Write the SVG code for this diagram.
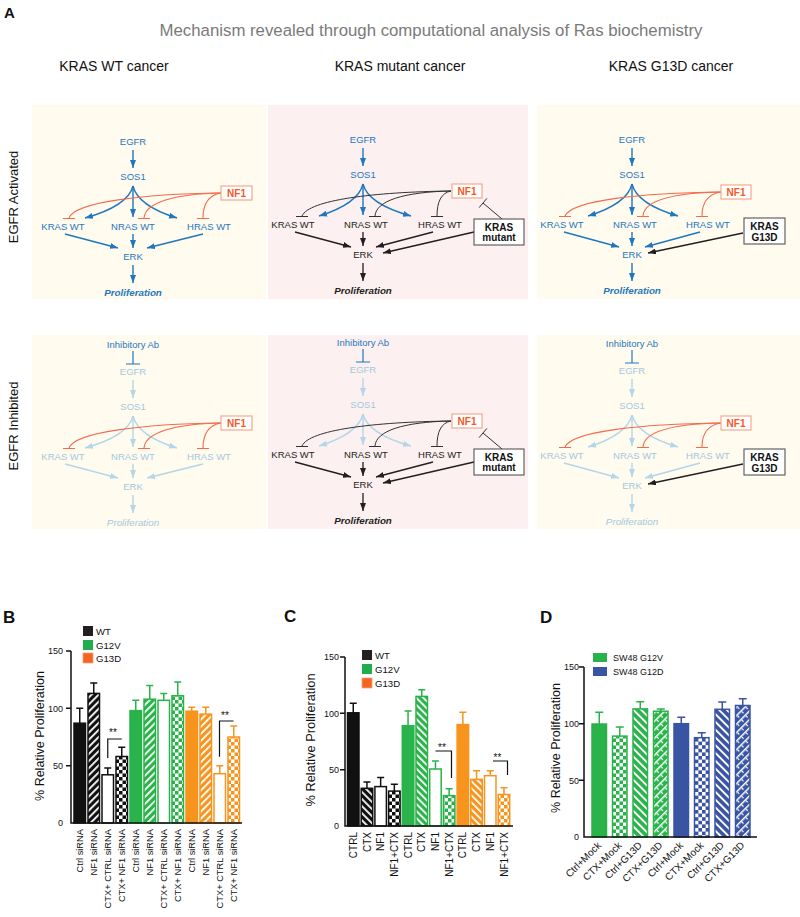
<svg xmlns="http://www.w3.org/2000/svg" width="800" height="917" viewBox="0 0 800 917">
<defs>
<style>
text{font-family:"Liberation Sans",Arial,Helvetica,sans-serif}
.t{font-size:9.5px;text-anchor:middle}
.cb{fill:#1f77bd}.cl{fill:#a3c8de}.ck{fill:#231f20}
.pb{font-size:9.8px;font-weight:bold;font-style:italic;text-anchor:middle}
.pi{font-size:9.8px;font-style:italic;text-anchor:middle}
.nfb{fill:#fff;stroke:#f6a98d;stroke-width:1.2}
.nft{font-size:10px;font-weight:bold;fill:#f15a29;text-anchor:middle}
.mb{fill:#fff;stroke:#555;stroke-width:1.1}
.mt{font-size:10px;font-weight:bold;fill:#111;text-anchor:middle}
.ab{font-size:9.5px;text-anchor:middle;fill:#1f77bd}
.eb{fill:none;stroke:#1f77bd;stroke-width:1.4;marker-end:url(#aB)}
.el{fill:none;stroke:#b3d6e9;stroke-width:1.4;marker-end:url(#aL)}
.ek{fill:none;stroke:#231f20;stroke-width:1.3;marker-end:url(#aK)}
.io{fill:none;stroke:#f26b4d;stroke-width:1.1}
.ik{fill:none;stroke:#333;stroke-width:1}
.ib{fill:none;stroke:#1f77bd;stroke-width:1.2}
.bgc{fill:#fffbef}.bgp{fill:#fcf0f1}
.hdr{font-size:14px;text-anchor:middle;fill:#111}
.side{font-size:13px;text-anchor:middle;fill:#111}
.let{font-size:17px;font-weight:bold;fill:#111}
.ax{fill:none;stroke:#111;stroke-width:1.5}
.tk{font-size:9px;text-anchor:end;fill:#111}
.yl{font-size:12.5px;text-anchor:middle;fill:#111}
.xl{font-size:9.3px;text-anchor:end;fill:#111}
.xc{font-size:10px;text-anchor:end;fill:#111}
.lg{font-size:9.6px;fill:#111}
.st{font-size:10px;text-anchor:middle;fill:#111}
.br{fill:none;stroke:#111;stroke-width:1.2}
.K{stroke:#111;stroke-width:1.5}.G{stroke:#2ab34b;stroke-width:1.5}.O{stroke:#f7941d;stroke-width:1.5}.Bl{stroke:#3a54a4;stroke-width:1.5}
.e{fill:none}
</style>
<marker id="aB" viewBox="0 0 8 6" refX="8" refY="3" markerWidth="8" markerHeight="6" markerUnits="userSpaceOnUse" orient="auto"><path d="M0,0 L8,3 L0,6 z" fill="#1f77bd"/></marker>
<marker id="aL" viewBox="0 0 8 6" refX="8" refY="3" markerWidth="8" markerHeight="6" markerUnits="userSpaceOnUse" orient="auto"><path d="M0,0 L8,3 L0,6 z" fill="#b3d6e9"/></marker>
<marker id="aK" viewBox="0 0 8 6" refX="8" refY="3" markerWidth="8" markerHeight="6" markerUnits="userSpaceOnUse" orient="auto"><path d="M0,0 L8,3 L0,6 z" fill="#231f20"/></marker>
<pattern id="hK" width="5" height="5" patternUnits="userSpaceOnUse" patternTransform="rotate(45)"><rect width="5" height="5" fill="#111"/><rect width="1.8" height="5" fill="#fff"/></pattern>
<pattern id="hG" width="5" height="5" patternUnits="userSpaceOnUse" patternTransform="rotate(45)"><rect width="5" height="5" fill="#2ab34b"/><rect width="1.8" height="5" fill="#fff"/></pattern>
<pattern id="hO" width="5" height="5" patternUnits="userSpaceOnUse" patternTransform="rotate(45)"><rect width="5" height="5" fill="#f7941d"/><rect width="1.8" height="5" fill="#fff"/></pattern>
<pattern id="bK" width="5" height="5" patternUnits="userSpaceOnUse" patternTransform="rotate(-45)"><rect width="5" height="5" fill="#111"/><rect width="1.8" height="5" fill="#fff"/></pattern>
<pattern id="bG" width="5" height="5" patternUnits="userSpaceOnUse" patternTransform="rotate(-45)"><rect width="5" height="5" fill="#2ab34b"/><rect width="1.8" height="5" fill="#fff"/></pattern>
<pattern id="bO" width="5" height="5" patternUnits="userSpaceOnUse" patternTransform="rotate(-45)"><rect width="5" height="5" fill="#f7941d"/><rect width="1.8" height="5" fill="#fff"/></pattern>
<pattern id="bB" width="5.5" height="5.5" patternUnits="userSpaceOnUse" patternTransform="rotate(-45)"><rect width="5.5" height="5.5" fill="#3a54a4"/><rect width="1.9" height="5.5" fill="#fff"/></pattern>
<pattern id="bG2" width="5.5" height="5.5" patternUnits="userSpaceOnUse" patternTransform="rotate(-45)"><rect width="5.5" height="5.5" fill="#2ab34b"/><rect width="1.9" height="5.5" fill="#fff"/></pattern>
<pattern id="cK" width="7" height="7" patternUnits="userSpaceOnUse"><rect width="7" height="7" fill="#fff"/><rect width="3.5" height="3.5" fill="#111"/><rect x="3.5" y="3.5" width="3.5" height="3.5" fill="#111"/></pattern>
<pattern id="cG" width="7" height="7" patternUnits="userSpaceOnUse"><rect width="7" height="7" fill="#fff"/><rect width="3.5" height="3.5" fill="#2ab34b"/><rect x="3.5" y="3.5" width="3.5" height="3.5" fill="#2ab34b"/></pattern>
<pattern id="cO" width="7" height="7" patternUnits="userSpaceOnUse"><rect width="7" height="7" fill="#fff"/><rect width="3.5" height="3.5" fill="#f7941d"/><rect x="3.5" y="3.5" width="3.5" height="3.5" fill="#f7941d"/></pattern>
<pattern id="cB" width="7.2" height="7.2" patternUnits="userSpaceOnUse"><rect width="7.2" height="7.2" fill="#fff"/><rect width="3.6" height="3.6" fill="#3a54a4"/><rect x="3.6" y="3.6" width="3.6" height="3.6" fill="#3a54a4"/></pattern>
<pattern id="zG" width="6" height="6" patternUnits="userSpaceOnUse" patternTransform="rotate(45)"><rect width="6" height="6" fill="#2ab34b"/><rect width="1.5" height="6" fill="#fff"/><rect x="1.5" y="2" width="2.6" height="1.2" fill="#fff"/></pattern>
<pattern id="zB" width="6" height="6" patternUnits="userSpaceOnUse" patternTransform="rotate(45)"><rect width="6" height="6" fill="#3a54a4"/><rect width="1.5" height="6" fill="#fff"/><rect x="1.5" y="2" width="2.6" height="1.2" fill="#fff"/></pattern>
</defs>
<rect width="800" height="917" fill="#fff"/>

<!-- Panel A headings -->
<text class="let" x="4" y="18" style="font-size:15px">A</text>
<text x="431" y="36" style="font-size:16.8px;text-anchor:middle;fill:#7a7a7a">Mechanism revealed through computational analysis of Ras biochemistry</text>
<text class="hdr" x="114" y="71">KRAS WT cancer</text>
<text class="hdr" x="400" y="71">KRAS mutant cancer</text>
<text class="hdr" x="671" y="71">KRAS G13D cancer</text>
<text class="side" transform="translate(17.7,197) rotate(-90)">EGFR Activated</text>
<text class="side" transform="translate(17.7,426) rotate(-90)">EGFR Inhibited</text>

<!-- backgrounds -->
<rect class="bgc" x="32" y="105" width="234" height="194"/>
<rect class="bgp" x="268" y="105" width="260" height="194"/>
<rect class="bgc" x="537" y="105" width="263" height="194"/>
<rect class="bgc" x="32" y="335" width="234" height="194"/>
<rect class="bgp" x="268" y="335" width="260" height="194"/>
<rect class="bgc" x="537" y="335" width="263" height="194"/>

<!-- ===== Top-left: KRAS WT, EGFR activated ===== -->
<g id="wt-act" transform="translate(133,2)">
 <g id="wt-act-connectors">
  <path class="eb" d="M0,148 L0,166"/>
  <path class="eb" d="M0,184 Q-5,204 -48,216"/>
  <path class="eb" d="M0,184 L0,215"/>
  <path class="eb" d="M0,184 Q5,204 44,216"/>
  <path class="eb" d="M-68,232 L-15,246"/>
  <path class="eb" d="M0,232 L0,246"/>
  <path class="eb" d="M70,232 L14,246"/>
  <path class="eb" d="M0,263 L0,281"/>
  <path class="io" d="M88,191 C10,192 -58,200 -64,216 M-70,216.5 H-58"/>
  <path class="io" d="M88,191 C40,192 12,201 11,216 M5,216.5 H17"/>
  <path class="io" d="M88,191 C76,193 70,202 70,216 M64,216.5 H76"/>
 </g>
 <g id="wt-act-egfr"><text class="t cb" x="0" y="143.4">EGFR</text></g>
 <g id="wt-act-sos1"><text class="t cb" x="0" y="178.4">SOS1</text></g>
 <g id="wt-act-kras"><text class="t cb" x="-70" y="228.4">KRAS WT</text></g>
 <g id="wt-act-nras"><text class="t cb" x="0" y="228.4">NRAS WT</text></g>
 <g id="wt-act-hras"><text class="t cb" x="76" y="228.4">HRAS WT</text></g>
 <g id="wt-act-erk"><text class="t cb" x="0" y="258.4">ERK</text></g>
 <g id="wt-act-prolif"><text class="pb cb" x="0" y="293.5">Proliferation</text></g>
 <g id="wt-act-nf1"><rect class="nfb" x="88" y="184" width="31" height="14"/><text class="nft" x="103.5" y="194.6">NF1</text></g>
</g>

<!-- ===== Top-middle: KRAS mutant, EGFR activated ===== -->
<g id="mut-act" transform="translate(363,0)">
 <g id="mut-act-connectors">
  <path class="eb" d="M0,148 L0,166"/>
  <path class="eb" d="M0,184 Q-5,204 -44,216"/>
  <path class="eb" d="M0,184 L0,215"/>
  <path class="eb" d="M0,184 Q5,204 48,216"/>
  <path class="ek" d="M-68,232 L-12,247"/>
  <path class="ek" d="M0,232 L0,246"/>
  <path class="ek" d="M70,232 L13,247"/>
  <path class="ek" d="M111,232 L20,253"/>
  <path class="ek" d="M0,263 L0,281"/>
  <path class="ik" d="M88,191 C10,192 -54,200 -61,216 M-67,216.5 H-55"/>
  <path class="ik" d="M88,191 C40,192 13,201 12,216 M6,216.5 H18"/>
  <path class="ik" d="M88,191 C78,193 74,202 74,216 M68,216.5 H80"/>
  <path class="ik" d="M139,219 L120,203 M116.1,207.6 L123.9,198.4"/>
 </g>
 <g id="mut-act-egfr"><text class="t cb" x="0" y="143.4">EGFR</text></g>
 <g id="mut-act-sos1"><text class="t cb" x="0" y="178.4">SOS1</text></g>
 <g id="mut-act-kras"><text class="t ck" x="-70" y="228.4">KRAS WT</text></g>
 <g id="mut-act-nras"><text class="t ck" x="3" y="228.4">NRAS WT</text></g>
 <g id="mut-act-hras"><text class="t ck" x="77" y="228.4">HRAS WT</text></g>
 <g id="mut-act-erk"><text class="t ck" x="0" y="258.4">ERK</text></g>
 <g id="mut-act-prolif"><text class="pb ck" x="0" y="293.5">Proliferation</text></g>
 <g id="mut-act-nf1"><rect class="nfb" x="89" y="184" width="30" height="14"/><text class="nft" x="104" y="194.6">NF1</text></g>
 <g id="mut-act-mutant"><rect class="mb" x="111" y="219" width="50" height="26"/><text class="mt" x="136" y="230.6">KRAS</text><text class="mt" x="136" y="240.8">mutant</text></g>
</g>

<!-- ===== Top-right: KRAS G13D, EGFR activated ===== -->
<g id="g13d-act" transform="translate(632,0)">
 <g id="g13d-act-connectors">
  <path class="eb" d="M0,148 L0,166"/>
  <path class="eb" d="M0,184 Q-5,204 -44,216"/>
  <path class="eb" d="M0,184 L0,215"/>
  <path class="eb" d="M0,184 Q5,204 46,216"/>
  <path class="eb" d="M-68,232 L-13,247"/>
  <path class="eb" d="M0,232 L0,246"/>
  <path class="eb" d="M68,232 L13,247"/>
  <path class="ek" d="M111,233 L16,253"/>
  <path class="eb" d="M0,263 L0,281"/>
  <path class="io" d="M89,192 C10,193 -60,200 -67,216 M-73,216.5 H-61"/>
  <path class="io" d="M89,192 C40,193 12,201 11,216 M5,216.5 H17"/>
  <path class="io" d="M89,192 C76,194 70,203 70,216 M64,216.5 H76"/>
 </g>
 <g id="g13d-act-egfr"><text class="t cb" x="0" y="143.4">EGFR</text></g>
 <g id="g13d-act-sos1"><text class="t cb" x="0" y="178.4">SOS1</text></g>
 <g id="g13d-act-kras"><text class="t cb" x="-70" y="228.4">KRAS WT</text></g>
 <g id="g13d-act-nras"><text class="t cb" x="3" y="228.4">NRAS WT</text></g>
 <g id="g13d-act-hras"><text class="t cb" x="76" y="228.4">HRAS WT</text></g>
 <g id="g13d-act-erk"><text class="t cb" x="0" y="258.4">ERK</text></g>
 <g id="g13d-act-prolif"><text class="pb cb" x="0" y="293.5">Proliferation</text></g>
 <g id="g13d-act-nf1"><rect class="nfb" x="89" y="185" width="30" height="14"/><text class="nft" x="104" y="195.6">NF1</text></g>
 <g id="g13d-act-g13d"><rect class="mb" x="112" y="218" width="41" height="26"/><text class="mt" x="132.5" y="230">KRAS</text><text class="mt" x="132.5" y="240.5">G13D</text></g>
</g>

<!-- ===== Bottom-left: KRAS WT, EGFR inhibited ===== -->
<g id="wt-inh" transform="translate(133,232)">
 <g id="wt-inh-connectors">
  <path class="ib" d="M0,119 V132 M-7,132 H7"/>
  <path class="el" d="M0,148 L0,166"/>
  <path class="el" d="M0,184 Q-5,204 -48,216"/>
  <path class="el" d="M0,184 L0,215"/>
  <path class="el" d="M0,184 Q5,204 44,216"/>
  <path class="el" d="M-68,232 L-15,246"/>
  <path class="el" d="M0,232 L0,246"/>
  <path class="el" d="M70,232 L14,246"/>
  <path class="el" d="M0,263 L0,281"/>
  <path class="io" d="M88,191 C10,192 -58,200 -64,216 M-70,216.5 H-58"/>
  <path class="io" d="M88,191 C40,192 12,201 11,216 M5,216.5 H17"/>
  <path class="io" d="M88,191 C76,193 70,202 70,216 M64,216.5 H76"/>
 </g>
 <g id="wt-inh-ab"><text class="ab" x="0" y="116">Inhibitory Ab</text></g>
 <g id="wt-inh-egfr"><text class="t cl" x="0" y="143.4">EGFR</text></g>
 <g id="wt-inh-sos1"><text class="t cl" x="0" y="178.4">SOS1</text></g>
 <g id="wt-inh-kras"><text class="t cl" x="-70" y="228.4">KRAS WT</text></g>
 <g id="wt-inh-nras"><text class="t cl" x="0" y="228.4">NRAS WT</text></g>
 <g id="wt-inh-hras"><text class="t cl" x="76" y="228.4">HRAS WT</text></g>
 <g id="wt-inh-erk"><text class="t cl" x="0" y="258.4">ERK</text></g>
 <g id="wt-inh-prolif"><text class="pi cl" x="0" y="293.5">Proliferation</text></g>
 <g id="wt-inh-nf1"><rect class="nfb" x="88" y="184" width="31" height="14"/><text class="nft" x="103.5" y="194.6">NF1</text></g>
</g>

<!-- ===== Bottom-middle: KRAS mutant, EGFR inhibited ===== -->
<g id="mut-inh" transform="translate(363,230)">
 <g id="mut-inh-connectors">
  <path class="ib" d="M0,119 V132 M-7,132 H7"/>
  <path class="el" d="M0,148 L0,166"/>
  <path class="el" d="M0,184 Q-5,204 -44,216"/>
  <path class="el" d="M0,184 L0,215"/>
  <path class="el" d="M0,184 Q5,204 48,216"/>
  <path class="ek" d="M-68,232 L-12,247"/>
  <path class="ek" d="M0,232 L0,246"/>
  <path class="ek" d="M70,232 L13,247"/>
  <path class="ek" d="M111,232 L20,253"/>
  <path class="ek" d="M0,263 L0,281"/>
  <path class="ik" d="M88,191 C10,192 -54,200 -61,216 M-67,216.5 H-55"/>
  <path class="ik" d="M88,191 C40,192 13,201 12,216 M6,216.5 H18"/>
  <path class="ik" d="M88,191 C78,193 74,202 74,216 M68,216.5 H80"/>
  <path class="ik" d="M139,219 L120,203 M116.1,207.6 L123.9,198.4"/>
 </g>
 <g id="mut-inh-ab"><text class="ab" x="0" y="116">Inhibitory Ab</text></g>
 <g id="mut-inh-egfr"><text class="t cl" x="0" y="143.4">EGFR</text></g>
 <g id="mut-inh-sos1"><text class="t cl" x="0" y="178.4">SOS1</text></g>
 <g id="mut-inh-kras"><text class="t ck" x="-70" y="228.4">KRAS WT</text></g>
 <g id="mut-inh-nras"><text class="t ck" x="3" y="228.4">NRAS WT</text></g>
 <g id="mut-inh-hras"><text class="t ck" x="77" y="228.4">HRAS WT</text></g>
 <g id="mut-inh-erk"><text class="t ck" x="0" y="258.4">ERK</text></g>
 <g id="mut-inh-prolif"><text class="pb ck" x="0" y="293.5">Proliferation</text></g>
 <g id="mut-inh-nf1"><rect class="nfb" x="89" y="184" width="30" height="14"/><text class="nft" x="104" y="194.6">NF1</text></g>
 <g id="mut-inh-mutant"><rect class="mb" x="111" y="219" width="50" height="26"/><text class="mt" x="136" y="230.6">KRAS</text><text class="mt" x="136" y="240.8">mutant</text></g>
</g>

<!-- ===== Bottom-right: KRAS G13D, EGFR inhibited ===== -->
<g id="g13d-inh" transform="translate(632,231)">
 <g id="g13d-inh-connectors">
  <path class="ib" d="M0,119 V132 M-7,132 H7"/>
  <path class="el" d="M0,148 L0,166"/>
  <path class="el" d="M0,184 Q-5,204 -44,216"/>
  <path class="el" d="M0,184 L0,215"/>
  <path class="el" d="M0,184 Q5,204 46,216"/>
  <path class="el" d="M-68,232 L-13,247"/>
  <path class="el" d="M0,232 L0,246"/>
  <path class="el" d="M68,232 L13,247"/>
  <path class="ek" d="M111,233 L16,253"/>
  <path class="el" d="M0,263 L0,281"/>
  <path class="io" d="M89,192 C10,193 -60,200 -67,216 M-73,216.5 H-61"/>
  <path class="io" d="M89,192 C40,193 12,201 11,216 M5,216.5 H17"/>
  <path class="io" d="M89,192 C76,194 70,203 70,216 M64,216.5 H76"/>
 </g>
 <g id="g13d-inh-ab"><text class="ab" x="0" y="116">Inhibitory Ab</text></g>
 <g id="g13d-inh-egfr"><text class="t cl" x="0" y="143.4">EGFR</text></g>
 <g id="g13d-inh-sos1"><text class="t cl" x="0" y="178.4">SOS1</text></g>
 <g id="g13d-inh-kras"><text class="t cl" x="-70" y="228.4">KRAS WT</text></g>
 <g id="g13d-inh-nras"><text class="t cl" x="3" y="228.4">NRAS WT</text></g>
 <g id="g13d-inh-hras"><text class="t cl" x="76" y="228.4">HRAS WT</text></g>
 <g id="g13d-inh-erk"><text class="t cl" x="0" y="258.4">ERK</text></g>
 <g id="g13d-inh-prolif"><text class="pi cl" x="0" y="293.5">Proliferation</text></g>
 <g id="g13d-inh-nf1"><rect class="nfb" x="89" y="185" width="30" height="14"/><text class="nft" x="104" y="195.6">NF1</text></g>
 <g id="g13d-inh-g13d"><rect class="mb" x="112" y="218" width="41" height="26"/><text class="mt" x="132.5" y="230">KRAS</text><text class="mt" x="132.5" y="240.5">G13D</text></g>
</g>

<!-- ===== Panel B ===== -->
<g id="panel-B">
 <text class="let" x="3" y="623">B</text>
 <rect x="83" y="626" width="10" height="10" fill="#231f20"/><text class="lg" x="96" y="634.5">WT</text>
 <rect x="83" y="640" width="10" height="10" fill="#1fae4b"/><text class="lg" x="96" y="648.5">G12V</text>
 <rect x="83" y="653" width="10" height="10" fill="#f26522" stroke="#f7a07a" stroke-width="0.8"/><text class="lg" x="96" y="661.5">G13D</text>
 <text class="yl" transform="translate(43.5,736) rotate(-90)">% Relative Proliferation</text>
 <text class="tk" x="63" y="654.2">150</text><text class="tk" x="63" y="711.5">100</text><text class="tk" x="63" y="768.9">50</text><text class="tk" x="63" y="826.2">0</text>
 <g>
  <rect x="74" y="723.2" width="11.5" height="99.8" fill="#111" class="K"/>
  <rect x="88" y="693.4" width="11.5" height="129.6" fill="url(#hK)" class="K"/>
  <rect x="102" y="774.8" width="11.5" height="48.2" fill="#fff" class="K"/>
  <rect x="116" y="756.5" width="11.5" height="66.5" fill="url(#cK)" class="K"/>
  <rect x="130" y="710.6" width="11.5" height="112.4" fill="#2ab34b" class="G"/>
  <rect x="144" y="699.2" width="11.5" height="123.8" fill="url(#hG)" class="G"/>
  <rect x="158" y="700.3" width="11.5" height="122.7" fill="#fff" class="G"/>
  <rect x="172" y="695.7" width="11.5" height="127.3" fill="url(#cG)" class="G"/>
  <rect x="186" y="711.2" width="11.5" height="111.8" fill="#f7941d" class="O"/>
  <rect x="200" y="714.1" width="11.5" height="108.9" fill="url(#hO)" class="O"/>
  <rect x="214" y="773.7" width="11.5" height="49.3" fill="#fff" class="O"/>
  <rect x="228" y="737" width="11.5" height="86" fill="url(#cO)" class="O"/>
 </g>
 <path class="e K" d="M79.75,723.2 V708.3 M76.25,708.3 H83.25 M93.75,693.4 V683.1 M90.25,683.1 H97.25 M107.75,774.8 V768 M104.25,768 H111.25 M121.75,756.5 V747.3 M118.25,747.3 H125.25"/>
 <path class="e G" d="M135.75,710.6 V700.3 M132.25,700.3 H139.25 M149.75,699.2 V685.4 M146.25,685.4 H153.25 M163.75,700.3 V693.4 M160.25,693.4 H167.25 M177.75,695.7 V682 M174.25,682 H181.25"/>
 <path class="e O" d="M191.75,711.2 V707.2 M188.25,707.2 H195.25 M205.75,714.1 V707.2 M202.25,707.2 H209.25 M219.75,773.7 V765.7 M216.25,765.7 H223.25 M233.75,737 V726.1 M230.25,726.1 H237.25"/>
 <path class="ax" d="M66,651 H71 M66,708.3 H71 M66,765.7 H71 M71,651 V823 H242"/>
 <path class="br" d="M107.75,758 V739 H121.75"/>
 <text class="st" x="113" y="736">**</text>
 <path class="br" d="M219.5,756.7 V721 H233.5"/>
 <text class="st" x="225" y="718.5">**</text>
 <text class="xl" transform="translate(83,829) rotate(-90)">Ctrl siRNA</text>
 <text class="xl" transform="translate(97,829) rotate(-90)">NF1 siRNA</text>
 <text class="xl" transform="translate(111,829) rotate(-90)">CTX+ CTRL siRNA</text>
 <text class="xl" transform="translate(125,829) rotate(-90)">CTX+ NF1 siRNA</text>
 <text class="xl" transform="translate(139,829) rotate(-90)">Ctrl siRNA</text>
 <text class="xl" transform="translate(153,829) rotate(-90)">NF1 siRNA</text>
 <text class="xl" transform="translate(167,829) rotate(-90)">CTX+ CTRL siRNA</text>
 <text class="xl" transform="translate(181,829) rotate(-90)">CTX+ NF1 siRNA</text>
 <text class="xl" transform="translate(195,829) rotate(-90)">Ctrl siRNA</text>
 <text class="xl" transform="translate(209,829) rotate(-90)">NF1 siRNA</text>
 <text class="xl" transform="translate(223,829) rotate(-90)">CTX+ CTRL siRNA</text>
 <text class="xl" transform="translate(237,829) rotate(-90)">CTX+ NF1 siRNA</text>
</g>

<!-- ===== Panel C ===== -->
<g id="panel-C">
 <text class="let" x="284" y="622">C</text>
 <rect x="362" y="650" width="10" height="10" fill="#231f20"/><text class="lg" x="375" y="658.5">WT</text>
 <rect x="362" y="664" width="10" height="10" fill="#1fae4b"/><text class="lg" x="375" y="672.5">G12V</text>
 <rect x="362" y="678" width="10" height="10" fill="#f26522" stroke="#f7a07a" stroke-width="0.8"/><text class="lg" x="375" y="686.5">G13D</text>
 <text class="yl" transform="translate(314.5,740) rotate(-90)" style="font-size:12.8px">% Relative Proliferation</text>
 <text class="tk" x="339" y="660.2">150</text><text class="tk" x="339" y="716.5">100</text><text class="tk" x="339" y="772.9">50</text><text class="tk" x="339" y="829.2">0</text>
 <g>
  <rect x="347.5" y="712.8" width="11.5" height="113.2" fill="#111" class="K"/>
  <rect x="361.2" y="788.3" width="11.5" height="37.7" fill="url(#bK)" class="K"/>
  <rect x="374.9" y="786.6" width="11.5" height="39.4" fill="#fff" class="K"/>
  <rect x="388.6" y="791.1" width="11.5" height="34.9" fill="url(#cK)" class="K"/>
  <rect x="402.3" y="725.7" width="11.5" height="100.3" fill="#2ab34b" class="G"/>
  <rect x="416" y="696.4" width="11.5" height="129.6" fill="url(#bG)" class="G"/>
  <rect x="429.7" y="769" width="11.5" height="57" fill="#fff" class="G"/>
  <rect x="443.4" y="795.6" width="11.5" height="30.4" fill="url(#cG)" class="G"/>
  <rect x="457.1" y="724.6" width="11.5" height="101.4" fill="#f7941d" class="O"/>
  <rect x="470.8" y="779.4" width="11.5" height="46.6" fill="url(#bO)" class="O"/>
  <rect x="484.5" y="775.7" width="11.5" height="50.3" fill="#fff" class="O"/>
  <rect x="498.2" y="794.5" width="11.5" height="31.5" fill="url(#cO)" class="O"/>
 </g>
 <path class="e K" d="M353.25,712.8 V703.2 M349.75,703.2 H356.75 M366.95,788.3 V782.1 M363.45,782.1 H370.45 M380.65,786.6 V777.6 M377.15,777.6 H384.15 M394.35,791.1 V784.3 M390.85,784.3 H397.85"/>
 <path class="e G" d="M408.05,725.7 V711.1 M404.55,711.1 H411.55 M421.75,696.4 V689.7 M418.25,689.7 H425.25 M435.45,769 V761 M431.95,761 H438.95 M449.15,795.6 V788.8 M445.65,788.8 H452.65"/>
 <path class="e O" d="M462.85,724.6 V712.2 M459.35,712.2 H466.35 M476.55,779.4 V770.8 M473.05,770.8 H480.05 M490.25,775.7 V770.8 M486.75,770.8 H493.75 M503.95,794.5 V787.7 M500.45,787.7 H507.45"/>
 <path class="ax" d="M340,657 H345 M340,713.3 H345 M340,769.7 H345 M345,657 V826 H513"/>
 <path class="br" d="M435.5,751 H451.5 V778"/>
 <text class="st" x="442" y="751">**</text>
 <path class="br" d="M493,761 H507.5 V775"/>
 <text class="st" x="497.5" y="760.5">**</text>
 <text class="xc" transform="translate(356.8,832) rotate(-90)">CTRL</text>
 <text class="xc" transform="translate(370.5,832) rotate(-90)">CTX</text>
 <text class="xc" transform="translate(384.2,832) rotate(-90)">NF1</text>
 <text class="xc" transform="translate(397.9,832) rotate(-90)">NF1+CTX</text>
 <text class="xc" transform="translate(411.6,832) rotate(-90)">CTRL</text>
 <text class="xc" transform="translate(425.3,832) rotate(-90)">CTX</text>
 <text class="xc" transform="translate(439,832) rotate(-90)">NF1</text>
 <text class="xc" transform="translate(452.7,832) rotate(-90)">NF1+CTX</text>
 <text class="xc" transform="translate(466.4,832) rotate(-90)">CTRL</text>
 <text class="xc" transform="translate(480.1,832) rotate(-90)">CTX</text>
 <text class="xc" transform="translate(493.8,832) rotate(-90)">NF1</text>
 <text class="xc" transform="translate(507.5,832) rotate(-90)">NF1+CTX</text>
</g>

<!-- ===== Panel D ===== -->
<g id="panel-D">
 <text class="let" x="540" y="623">D</text>
 <rect x="593" y="653" width="14" height="9" fill="#2ab34b"/><text class="lg" x="613" y="661" style="font-size:9px">SW48 G12V</text>
 <rect x="593" y="667" width="14" height="9" fill="#3a54a4"/><text class="lg" x="613" y="675" style="font-size:9px">SW48 G12D</text>
 <text class="yl" transform="translate(559.5,748) rotate(-90)">% Relative Proliferation</text>
 <text class="tk" x="579" y="670.2">150</text><text class="tk" x="579" y="726.9">100</text><text class="tk" x="579" y="783.5">50</text><text class="tk" x="579" y="840.2">0</text>
 <g>
  <rect x="592" y="724" width="14.5" height="113" fill="#2ab34b" class="G"/>
  <rect x="612.5" y="736.1" width="14.5" height="100.9" fill="url(#cG)" class="G"/>
  <rect x="633" y="708.9" width="14.5" height="128.1" fill="url(#bG2)" class="G"/>
  <rect x="653.5" y="711.2" width="14.5" height="125.8" fill="url(#zG)" class="G"/>
  <rect x="674" y="723.7" width="14.5" height="113.3" fill="#3a54a4" class="Bl"/>
  <rect x="694.5" y="737.7" width="14.5" height="99.3" fill="url(#cB)" class="Bl"/>
  <rect x="715" y="709.3" width="14.5" height="127.7" fill="url(#bB)" class="Bl"/>
  <rect x="735.5" y="705.5" width="14.5" height="131.5" fill="url(#zB)" class="Bl"/>
 </g>
 <path class="e G" d="M599.25,724 V712.3 M595.25,712.3 H603.25 M619.75,736.1 V727.1 M615.75,727.1 H623.75 M640.25,708.9 V701.7 M636.25,701.7 H644.25 M660.75,711.2 V708.9 M656.75,708.9 H664.75"/>
 <path class="e Bl" d="M681.25,723.7 V717.3 M677.25,717.3 H685.25 M701.75,737.7 V732.7 M697.75,732.7 H705.75 M722.25,709.3 V702.1 M718.25,702.1 H726.25 M742.75,705.5 V698.7 M738.75,698.7 H746.75"/>
 <path class="ax" d="M579,667 H584 M579,723.7 H584 M579,780.3 H584 M584,667 V837 H757"/>
 <text class="xc" transform="translate(601.7,846) rotate(-45)">Ctrl+Mock</text>
 <text class="xc" transform="translate(622.2,846) rotate(-45)">CTX+Mock</text>
 <text class="xc" transform="translate(642.7,846) rotate(-45)">Ctrl+G13D</text>
 <text class="xc" transform="translate(663.2,846) rotate(-45)">CTX+G13D</text>
 <text class="xc" transform="translate(683.7,846) rotate(-45)">Ctrl+Mock</text>
 <text class="xc" transform="translate(704.2,846) rotate(-45)">CTX+Mock</text>
 <text class="xc" transform="translate(724.7,846) rotate(-45)">Ctrl+G13D</text>
 <text class="xc" transform="translate(745.2,846) rotate(-45)">CTX+G13D</text>
</g>
</svg>
